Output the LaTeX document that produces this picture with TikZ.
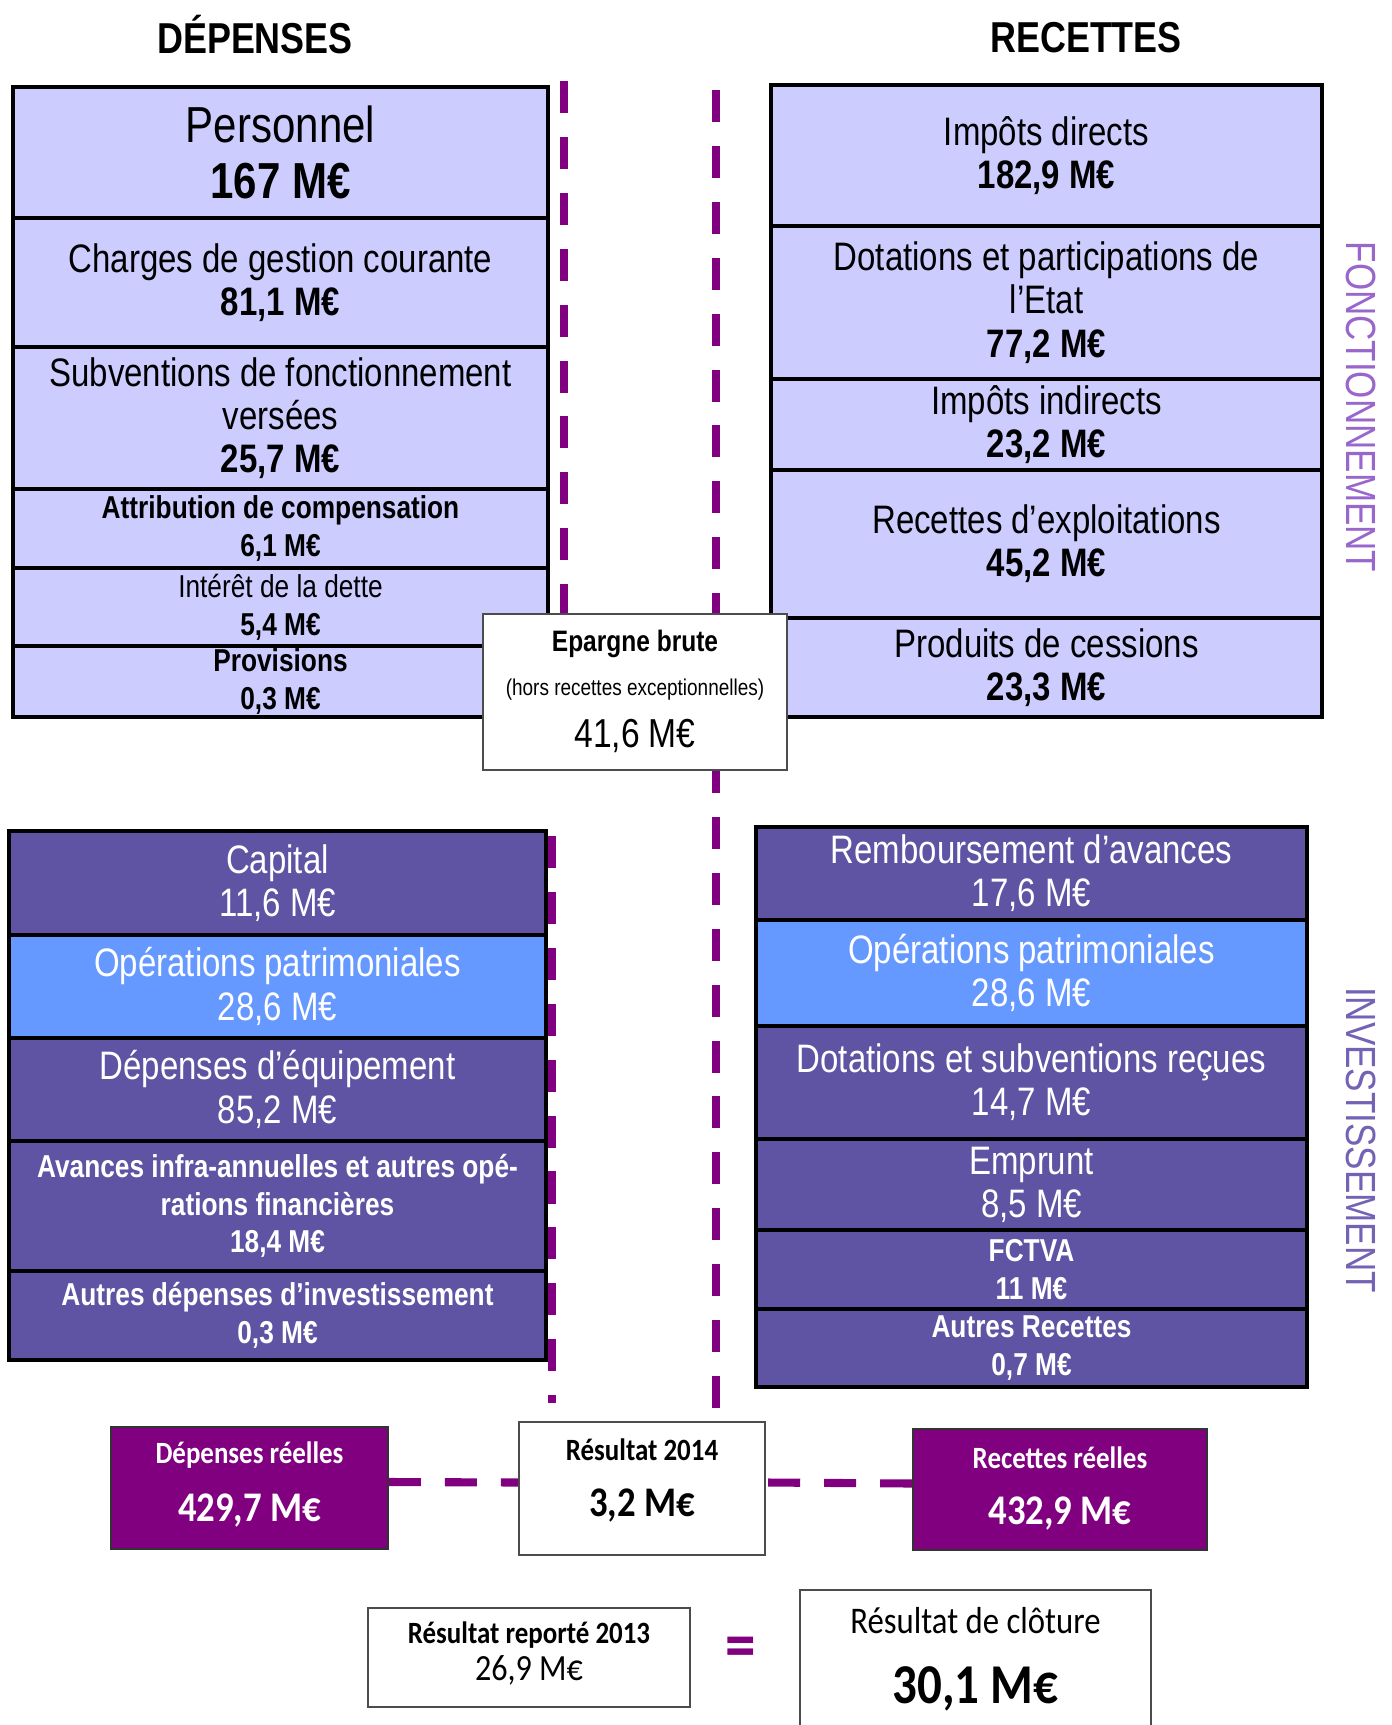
\documentclass[tikz,border=0pt]{standalone}
\usepackage{fontspec}
\usepackage{tikz}
\usetikzlibrary{calc}
\newfontfamily\arialn[FakeStretch=0.83]{Liberation Sans}
\newfontfamily\calib[FakeStretch=0.87]{Carlito}
\definecolor{lavande}{HTML}{CCCCFF}
\definecolor{violinv}{HTML}{5F54A4}
\definecolor{bleupat}{HTML}{6699FF}
\definecolor{prune}{HTML}{800080}
\definecolor{lilas}{HTML}{9966CC}
\definecolor{lilasf}{HTML}{7462B4}
\tikzset{
	fonct/.style={draw=black, line width=1.1pt, fill=lavande},
	invest/.style={draw=black, line width=1.1pt, fill=violinv},
	patri/.style={draw=black, line width=1.1pt, fill=bleupat},
	gros/.style={align=center, font=\arialn\fontsize{14.4}{16}\selectfont},
	moyen/.style={align=center, font=\arialn\fontsize{11.3}{12.3}\selectfont},
	petit/.style={align=center, font=\arialn\bfseries\fontsize{9}{10.7}\selectfont},
	titre/.style={font=\arialn\bfseries\fontsize{12.3}{14}\selectfont},
	vert/.style={rotate=-90, font=\arialn\fontsize{12}{14}\selectfont},
	tiret/.style={draw=prune, line width=2.3pt, dash pattern=on 9.1pt off 6.8pt},
	blanc/.style={draw=black!70, line width=0.5pt, fill=white},
	reel/.style={draw=black!80, line width=0.5pt, fill=prune},
}

\begin{document}
\begin{tikzpicture}[x=0.01cm, y=-0.01cm]
		\useasboundingbox (0,0) rectangle (1392,1725);
		%%%%% START %%%%%
		\node[titre] (dep) at (255,35) {DÉPENSES};
		\node[titre] (rec) at (1086,38) {RECETTES};
		
		% fonctionnement - depenses
		\draw[fonct] (13,87) rectangle node[gros] (pers) {Personnel\\\bfseries 167 M€} (548,218);
		\draw[fonct] (13,218) rectangle node[moyen] (charg) {Charges de gestion courante\\\bfseries 81,1 M€} (548,347);
		\draw[fonct] (13,347) rectangle node[moyen] (subv) {Subventions de fonctionnement\\versées\\\bfseries 25,7 M€} (548,489);
		\draw[fonct] (13,489) rectangle node[petit] (attr) {Attribution de compensation\\6,1 M€} (548,568);
		\draw[fonct] (13,568) rectangle node[petit] (inter) {\mdseries Intérêt de la dette\\5,4 M€} (548,646);
		\draw[fonct] (13,646) rectangle node[petit] (prov) {Provisions\\0,3 M€} (548,717);
		
		% fonctionnement - recettes
		\draw[fonct] (771,85) rectangle node[moyen] (impd) {Impôts directs\\\bfseries 182,9 M€} (1322,226);
		\draw[fonct] (771,226) rectangle node[moyen] (dotat) {Dotations et participations de\\l’Etat\\\bfseries 77,2 M€} (1322,379);
		\draw[fonct] (771,379) rectangle node[moyen] (impi) {Impôts indirects\\\bfseries 23,2 M€} (1322,470);
		\draw[fonct] (771,470) rectangle node[moyen] (explo) {Recettes d’exploitations\\\bfseries 45,2 M€} (1322,618);
		\draw[fonct] (771,618) rectangle node[moyen] (cess) {Produits de cessions\\\bfseries 23,3 M€} (1322,717);
		
		% investissement - depenses
		\draw[invest] (9,831) rectangle node[moyen, text=white] (capit) {Capital\\11,6 M€} (546,935);
		\draw[patri] (9,935) rectangle node[moyen, text=white] (patg) {Opérations patrimoniales\\28,6 M€} (546,1038);
		\draw[invest] (9,1038) rectangle node[moyen, text=white] (equip) {Dépenses d’équipement\\85,2 M€} (546,1141);
		\draw[invest] (9,1141) rectangle node[petit, text=white] (avanc) {Avances infra-annuelles et autres opé-\\rations financières\\18,4 M€} (546,1271);
		\draw[invest] (9,1271) rectangle node[petit, text=white] (autd) {Autres dépenses d’investissement\\0,3 M€} (546,1360);
		
		% investissement - recettes
		\draw[invest] (756,827) rectangle node[moyen, text=white] (remb) {Remboursement d’avances\\17,6 M€} (1307,920);
		\draw[patri] (756,920) rectangle node[moyen, text=white] (patd) {Opérations patrimoniales\\28,6 M€} (1307,1026);
		\draw[invest] (756,1026) rectangle node[moyen, text=white] (subr) {Dotations et subventions reçues\\14,7 M€} (1307,1139);
		\draw[invest] (756,1139) rectangle node[moyen, text=white] (empr) {Emprunt\\8,5 M€} (1307,1230);
		\draw[invest] (756,1230) rectangle node[petit, text=white] (fctva) {FCTVA\\11 M€} (1307,1309);
		\draw[invest] (756,1309) rectangle node[petit, text=white] (autr) {Autres Recettes\\0,7 M€} (1307,1387);
		
		\node[vert, text=lilas] (fonc) at (1361,407) {FONCTIONNEMENT};
		\node[vert, text=lilasf] (inv) at (1361,1140) {INVESTISSEMENT};
		
		% bilan
		\node[reel, minimum width=2.77cm, minimum height=1.22cm] (depr) at (249.5,1488) {};
		\node[blanc, minimum width=2.46cm, minimum height=1.33cm] (res) at (642,1488.5) {};
		\node[reel, minimum width=2.94cm, minimum height=1.21cm] (recr) at (1060,1489.5) {};
		
		% pointilles
		\coordinate (dg) at (564,81);
		\coordinate (dd) at (716,90);
		\coordinate (dgi) at (552,836);
		\draw[tiret] (dg) -- (564,614);
		\draw[tiret] (dd) -- (dd |- res.north);
		\draw[tiret] (dgi) -- (552,1403);
		\draw[tiret] ([yshift=0.06cm]depr.east) -- ([yshift=0.06cm]res.west);
		\draw[tiret] ([yshift=0.06cm]recr.west) -- ([yshift=0.06cm]res.east);
		
		% epargne
		\node[blanc, minimum width=3.04cm, minimum height=1.56cm] (eparg) at (635,692) {};
		\node[font=\arialn\bfseries\fontsize{8.4}{10}\selectfont] (epart) at (635,644) {Epargne brute};
		\node[font=\arialn\fontsize{6.5}{8}\selectfont] (eparh) at (635,690) {(hors recettes exceptionnelles)};
		\node[font=\arialn\fontsize{11.5}{13}\selectfont] (eparv) at (635,736) {41,6 M€};
		
		\node[font=\calib\bfseries\fontsize{8.8}{10}\selectfont, text=white] (deprt) at (249.5,1455) {Dépenses réelles};
		\node[font=\calib\bfseries\fontsize{12}{14}\selectfont, text=white] (deprv) at (249.5,1510) {429,7 M€};
		\node[font=\calib\bfseries\fontsize{8.8}{10}\selectfont] (rest) at (642,1450) {Résultat 2014};
		\node[font=\calib\bfseries\fontsize{12}{14}\selectfont] (resv) at (642,1505) {3,2 M€};
		\node[font=\calib\bfseries\fontsize{8.8}{10}\selectfont, text=white] (recrt) at (1060,1458) {Recettes réelles};
		\node[font=\calib\bfseries\fontsize{12}{14}\selectfont, text=white] (recrv) at (1060,1513) {432,9 M€};
		
		% resultat final
		\node[blanc, minimum width=3.22cm, minimum height=0.99cm] (report) at (529,1657.5) {};
		\node[font=\calib\bfseries\fontsize{8.8}{10}\selectfont] (reportt) at (529,1635) {Résultat reporté 2013};
		\node[font=\calib\fontsize{10.5}{12}\selectfont] (reportv) at (529,1670) {26,9 M€};
		\node[font=\calib\bfseries\fontsize{20}{22}\selectfont, text=prune] (egal) at (741,1653) {=};
		\node[blanc, minimum width=3.51cm, minimum height=1.8cm] (clot) at (975.5,1680) {};
		\node[font=\calib\fontsize{10.7}{12}\selectfont] (clott) at (975.5,1621) {Résultat de clôture};
		\node[font=\calib\bfseries\fontsize{16}{18}\selectfont] (clotv) at (975.5,1689) {30,1 M€};
		%%%%% END %%%%%
\end{tikzpicture}
\end{document}
